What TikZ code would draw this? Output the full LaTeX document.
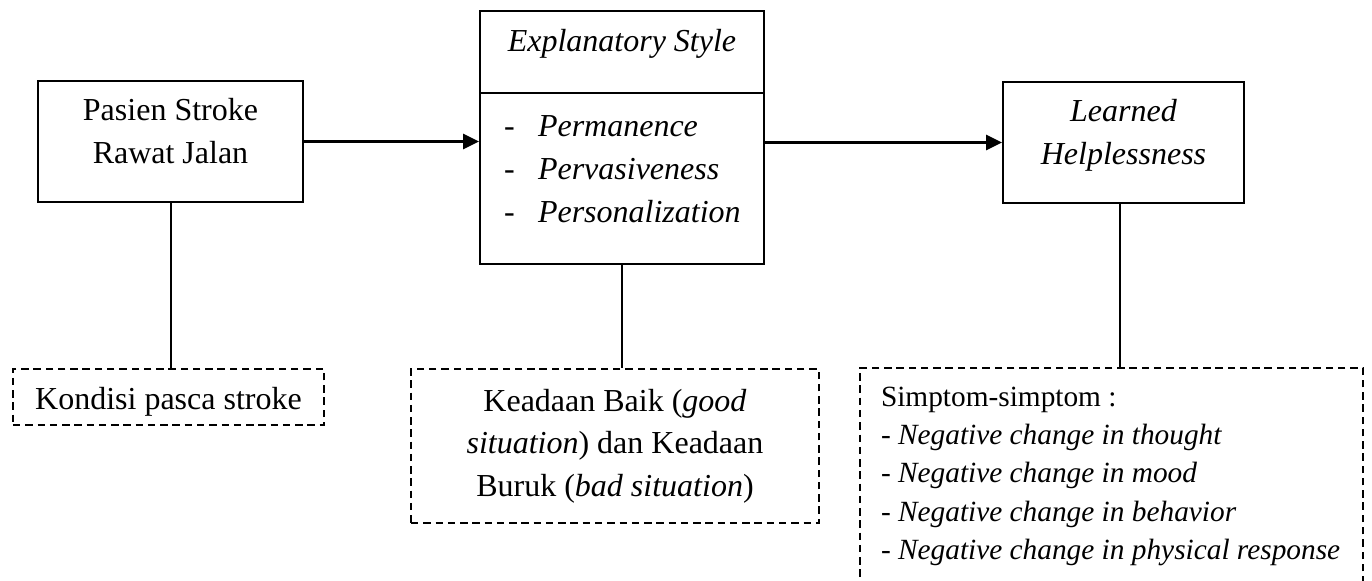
\documentclass[tikz,border=0pt]{standalone}
\usepackage{fontspec}
\setmainfont{Liberation Serif}
\usetikzlibrary{arrows.meta,shapes.multipart}

\newcommand{\isitengah}[4]{\parbox[t][#2][t]{#1}{\centering\rule{0pt}{#3}#4}}

\begin{document}
\begin{tikzpicture}[x=0.375pt,y=-0.375pt,font=\fontsize{12}{16}\selectfont,
  kotak/.style={draw,line width=0.75pt,inner sep=0pt,anchor=north west},
  kotakputus/.style={kotak,dash pattern=on 2.8pt off 1.8pt},
  panah/.style={line width=1.1pt,-{Triangle[length=6pt,width=5.6pt]}},
  garis/.style={line width=0.75pt}]
  \useasboundingbox (0,0) rectangle (1372,581);
  \clip (0,0) rectangle (1372,581);
  % kotak utama
  \node[kotak] (pasien) at (37,80){\isitengah{99.375pt}{45.375pt}{15pt}{Pasien Stroke\\Rawat Jalan}};
  \node[kotak,rectangle split,rectangle split parts=2] (gaya) at (479,10){\isitengah{106.5pt}{30pt}{15pt}{\textit{Explanatory Style}}
    \nodepart{two}\parbox[t][63.375pt][t]{106.5pt}{\raggedright\leftskip=9pt\relax\rule{0pt}{16.125pt}%
      \makebox[12.75pt][l]{-}\textit{Permanence}\\
      \makebox[12.75pt][l]{-}\textit{Pervasiveness}\\
      \makebox[12.75pt][l]{-}\textit{Personalization}}};
  \node[kotak] (helpless) at (1002,81){\isitengah{90.375pt}{45.375pt}{15pt}{\textit{Learned}\\\textit{Helplessness}}};
  % kotak keterangan
  \node[kotakputus] (kondisi) at (12,368){\isitengah{116.625pt}{21pt}{15pt}{Kondisi pasca stroke}};
  \node[kotakputus] (keadaan) at (410,368){\isitengah{153pt}{57.75pt}{15.75pt}{Keadaan Baik (\textit{good}\\\textit{situation}) dan Keadaan\\Buruk (\textit{bad situation})}};
  \node[kotakputus] (gejala) at (859,367){\parbox[t][90pt][t]{188.625pt}{\fontsize{11}{14.4}\selectfont\raggedright\leftskip=7.875pt\relax\rule{0pt}{14.25pt}%
    Simptom-simptom :\\
    - \textit{Negative change in thought}\\
    - \textit{Negative change in mood}\\
    - \textit{Negative change in behavior}\\
    - \textit{Negative change in physical response}}};
  % penghubung
  \draw[panah] (pasien.east) -- (pasien.east -| gaya.west);
  \draw[panah] (gaya.east |- helpless.west) -- (helpless.west);
  \draw[garis] (pasien.south) -- (pasien.south |- kondisi.north);
  \draw[garis] (gaya.south) -- (gaya.south |- keadaan.north);
  \draw[garis] ([xshift=-1.5pt]helpless.south) -- ([xshift=-1.5pt]helpless.south |- gejala.north);
\end{tikzpicture}
\end{document}
